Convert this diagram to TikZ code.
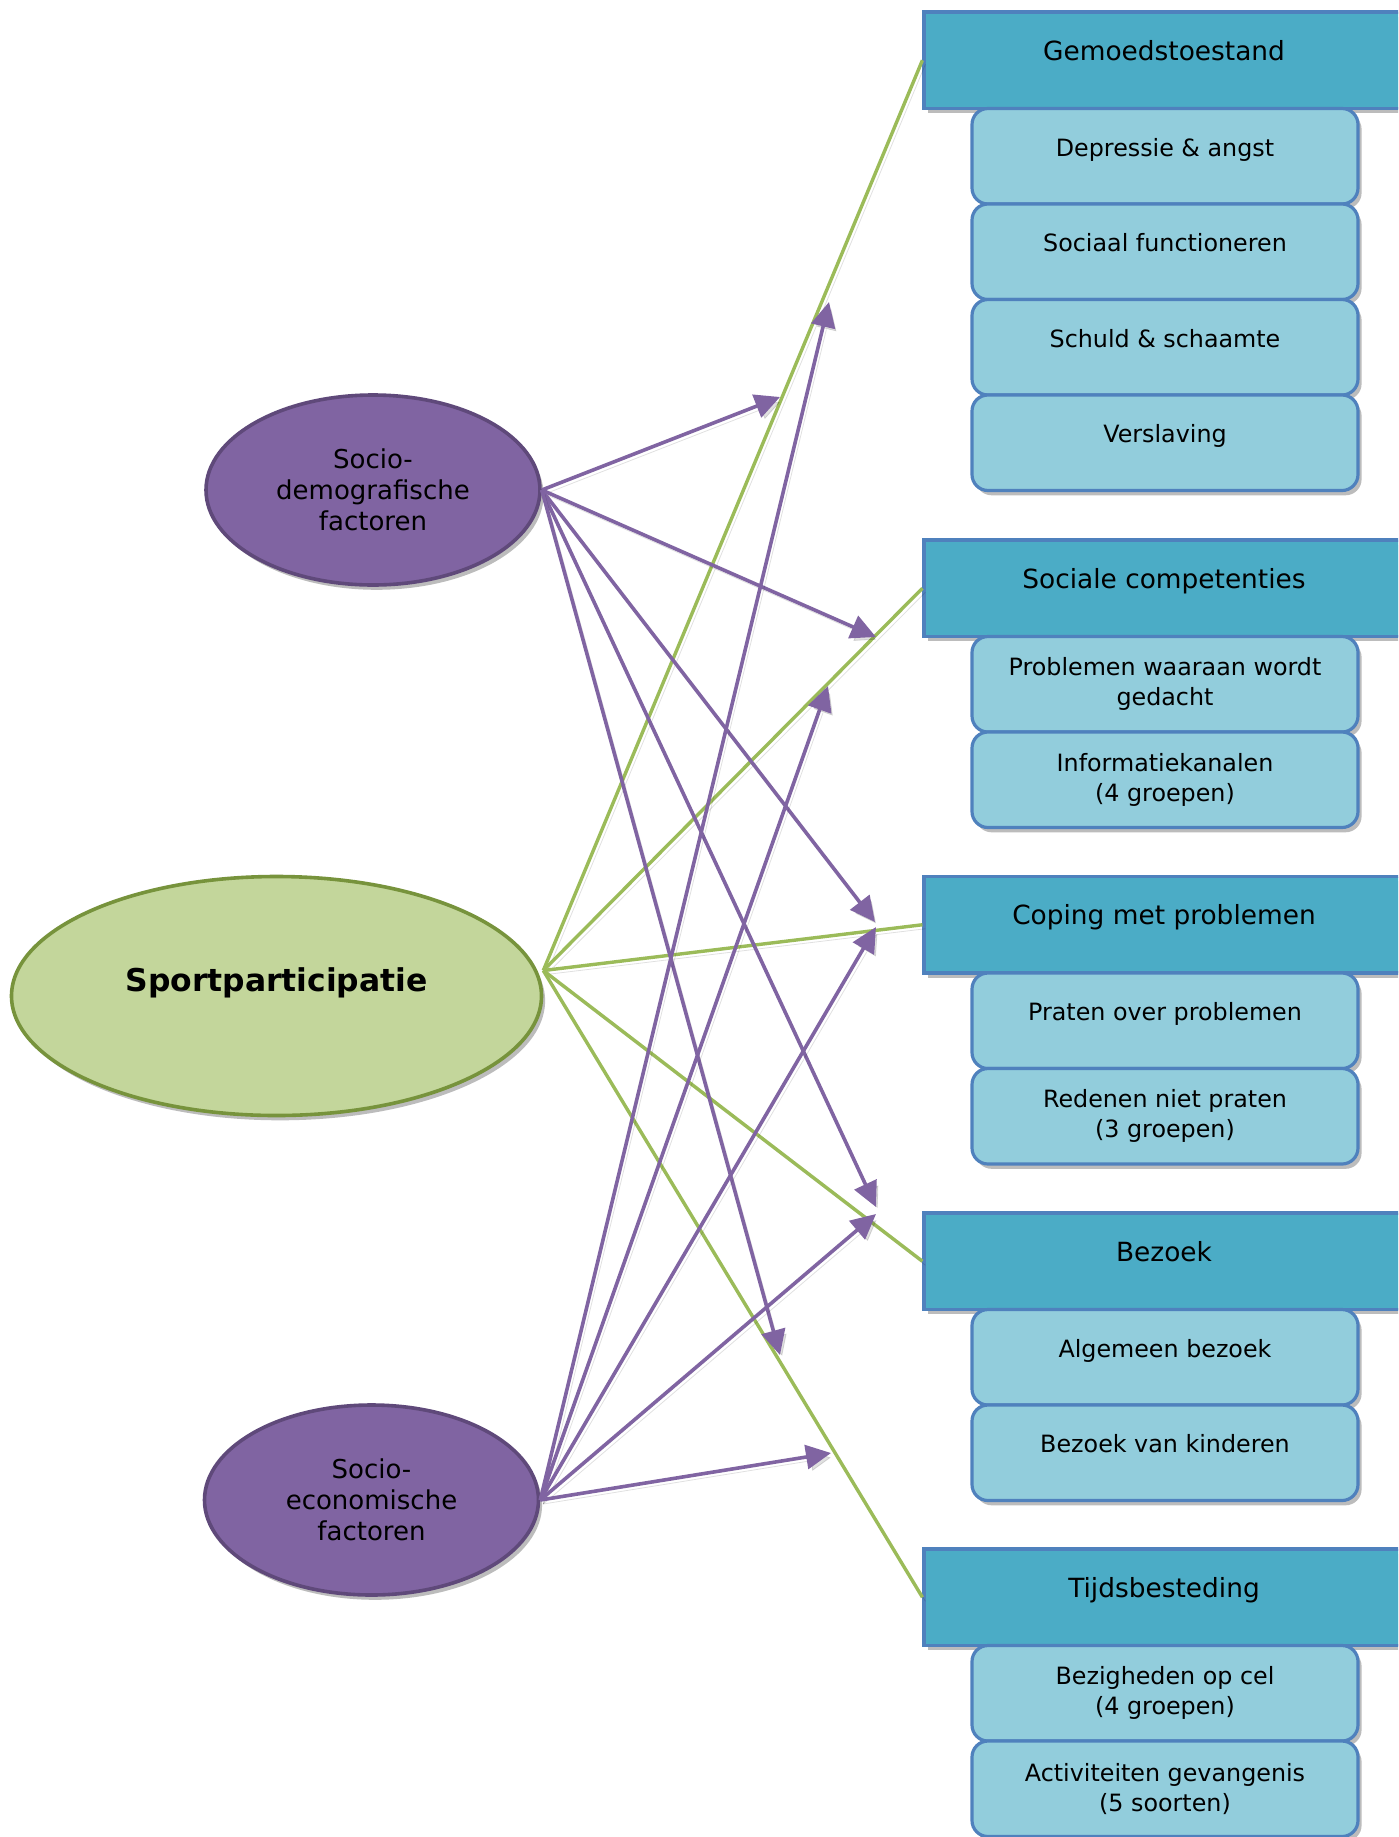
\documentclass[tikz,border=0pt]{standalone}
\usepackage{fontspec}
\setmainfont{DejaVu Sans}
\usetikzlibrary{shapes.geometric,arrows.meta,shadows,calc}
\definecolor{hdrfill}{HTML}{4BACC6}
\definecolor{subfill}{HTML}{92CDDC}
\definecolor{boxline}{HTML}{4F81BD}
\definecolor{grnfill}{HTML}{C3D69B}
\definecolor{grnline}{HTML}{77933C}
\definecolor{grnconn}{HTML}{9BBB59}
\definecolor{purfill}{HTML}{8064A2}
\definecolor{purline}{HTML}{5F497A}
\definecolor{purconn}{HTML}{8064A2}
\begin{document}
\begin{tikzpicture}[x=0.5pt,y=-0.5pt,
 boxshadow/.style={drop shadow={shadow xshift=1.8pt,shadow yshift=-2.4pt,opacity=0.35,fill=black!75}},
 hdr/.style={rectangle, draw=boxline, line width=1.6pt, fill=hdrfill, minimum width=240pt, minimum height=48.25pt, inner sep=0pt, font=\fontsize{13.2}{16}\selectfont, text height=5pt, text depth=5pt, boxshadow},
 sub/.style={rectangle, rounded corners=8pt, draw=boxline, line width=1.6pt, fill=subfill, minimum width=193pt, minimum height=47.75pt, inner sep=0pt, align=center, font=\fontsize{11.9}{15}\selectfont, boxshadow},
 one/.style={text height=5pt,text depth=5pt},
 ell/.style={ellipse, line width=1.8pt, inner sep=0pt, align=center, boxshadow},
 purell/.style={ell, draw=purline, fill=purfill, minimum width=167pt, minimum height=95pt, font=\fontsize{13}{15.5}\selectfont},
 lshadow/.style={preaction={draw=black, opacity=0.12, transform canvas={shift={(1.5pt,-2pt)}}}},
 grn/.style={lshadow, draw=grnconn, line width=1.7pt},
 pur/.style={lshadow, draw=purconn, line width=1.8pt, -{Triangle[length=12.5pt,width=12pt]}},
]
\useasboundingbox (0,0) rectangle (1398,1837);
\fill[white] (0,0) rectangle (1398,1837);
\clip (0,0) rectangle (1398,1837);

% ellipses
\node[ell, draw=grnline, fill=grnfill, minimum width=265pt, minimum height=119.5pt,
      font=\bfseries\fontsize{15.7}{18}\selectfont, text height=3pt, text depth=8pt] (sp) at (276.5,996) {Sportparticipatie};
\node[purell] (sd) at (373,490) {Socio-\\demografische\\factoren};
\node[purell] (se) at (371.5,1500) {Socio-\\economische\\factoren};

% headers
\node[hdr] (h1) at (1164,60.25) {Gemoedstoestand};
\node[hdr] (h2) at (1164,588.25) {Sociale competenties};
\node[hdr] (h3) at (1164,924.75) {Coping met problemen};
\node[hdr] (h4) at (1164,1261.25) {Bezoek};
\node[hdr] (h5) at (1164,1597.25) {Tijdsbesteding};

% sub boxes
\node[sub,one] (s11) at (1165,156.25) {Depressie \& angst};
\node[sub,one] (s12) at (1165,251.75) {Sociaal functioneren};
\node[sub,one] (s13) at (1165,347.25) {Schuld \& schaamte};
\node[sub,one] (s14) at (1165,442.75) {Verslaving};
\node[sub] (s21) at (1165,684.25) {Problemen waaraan wordt\\gedacht};
\node[sub] (s22) at (1165,779.75) {Informatiekanalen\\(4 groepen)};
\node[sub,one] (s31) at (1165,1020.75) {Praten over problemen};
\node[sub] (s32) at (1165,1116.25) {Redenen niet praten\\(3 groepen)};
\node[sub,one] (s41) at (1165,1357.25) {Algemeen bezoek};
\node[sub,one] (s42) at (1165,1452.75) {Bezoek van kinderen};
\node[sub] (s51) at (1165,1693.25) {Bezigheden op cel\\(4 groepen)};
\node[sub] (s52) at (1165,1788.75) {Activiteiten gevangenis\\(5 soorten)};

% green connectors
\coordinate (spo) at ([yshift=12.75pt]sp.east);
\foreach \h in {h1,h2,h3,h4,h5}{\draw[grn] (spo) -- (\h.west);}

% purple arrow tips
\coordinate (d1) at (780,397);
\coordinate (d2) at (876,637);
\coordinate (d3) at (875,922);
\coordinate (d4) at (876,1207);
\coordinate (d5) at (780,1355);
\coordinate (e1) at (829,302);
\coordinate (e2) at (828,686);
\coordinate (e3) at (876,927);
\coordinate (e4) at (876,1214);
\coordinate (e5) at (831,1453);
\foreach \t in {d1,d2,d3,d4,d5}{\draw[pur] (sd.east) -- (\t);}
\foreach \t in {e1,e2,e3,e4,e5}{\draw[pur] (se.east) -- (\t);}
\end{tikzpicture}
\end{document}
